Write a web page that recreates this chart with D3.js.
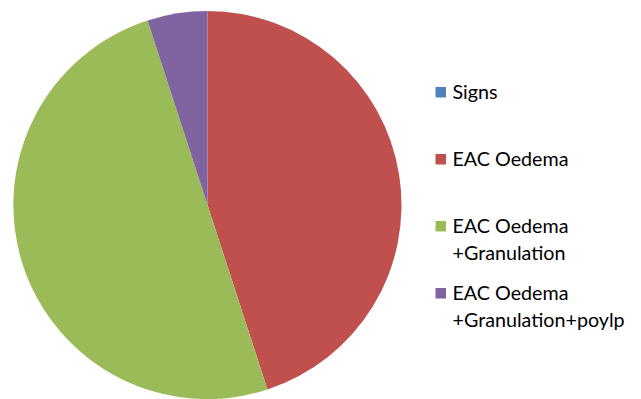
<!DOCTYPE html>
<html>
<head>
<meta charset="utf-8">
<script src="https://cdn.jsdelivr.net/npm/d3@7"></script>
<style>
  html, body { margin: 0; padding: 0; background: #fff; }
  svg { display: block; }
</style>
</head>
<body>
<svg id="chart" width="641" height="399"></svg>
<script>
// data
const categories = ["Signs", "EAC Oedema", "EAC Oedema\n+Granulation", "EAC Oedema\n+Granulation+poylp"];
const counts = [0, 9, 10, 1];
const palette = ["#4F81BD", "#C0504D", "#9BBB59", "#8064A2"];

const w = 641, h = 399;
const svg = d3.select("#chart");

// pie
const cx = 207.5, cy = 205, r = 194;
const color = d3.scaleOrdinal().domain(categories).range(palette);
const pie = d3.pie().sort(null).value(d => d.value);
const arc = d3.arc().innerRadius(0).outerRadius(r);
const slices = pie(categories.map((c, i) => ({ name: c, value: counts[i] })));

svg.append("g")
  .attr("transform", `translate(${cx},${cy})`)
  .selectAll("path")
  .data(slices)
  .join("path")
  .attr("d", arc)
  .attr("fill", d => color(d.data.name));

// legend
const legendY = d3.scalePoint().domain(categories).range([92, 293]);
const lineH = 27;
const leg = svg.append("g").attr("font-family", "Lato, 'Open Sans', sans-serif").attr("font-size", "19.7px").attr("fill", "#000");
categories.forEach(c => {
  const lines = c.split("\n");
  const y0 = legendY(c);
  leg.append("rect")
    .attr("x", 435.5).attr("y", y0 - 5).attr("width", 10.5).attr("height", 10.5)
    .attr("fill", color(c));
  const t = leg.append("text").attr("x", 452.5).attr("y", y0 + 6.5);
  lines.forEach((ln, i) => {
    t.append("tspan").attr("x", 452.5).attr("dy", i === 0 ? 0 : lineH).text(ln);
  });
});
</script>
</body>
</html>
